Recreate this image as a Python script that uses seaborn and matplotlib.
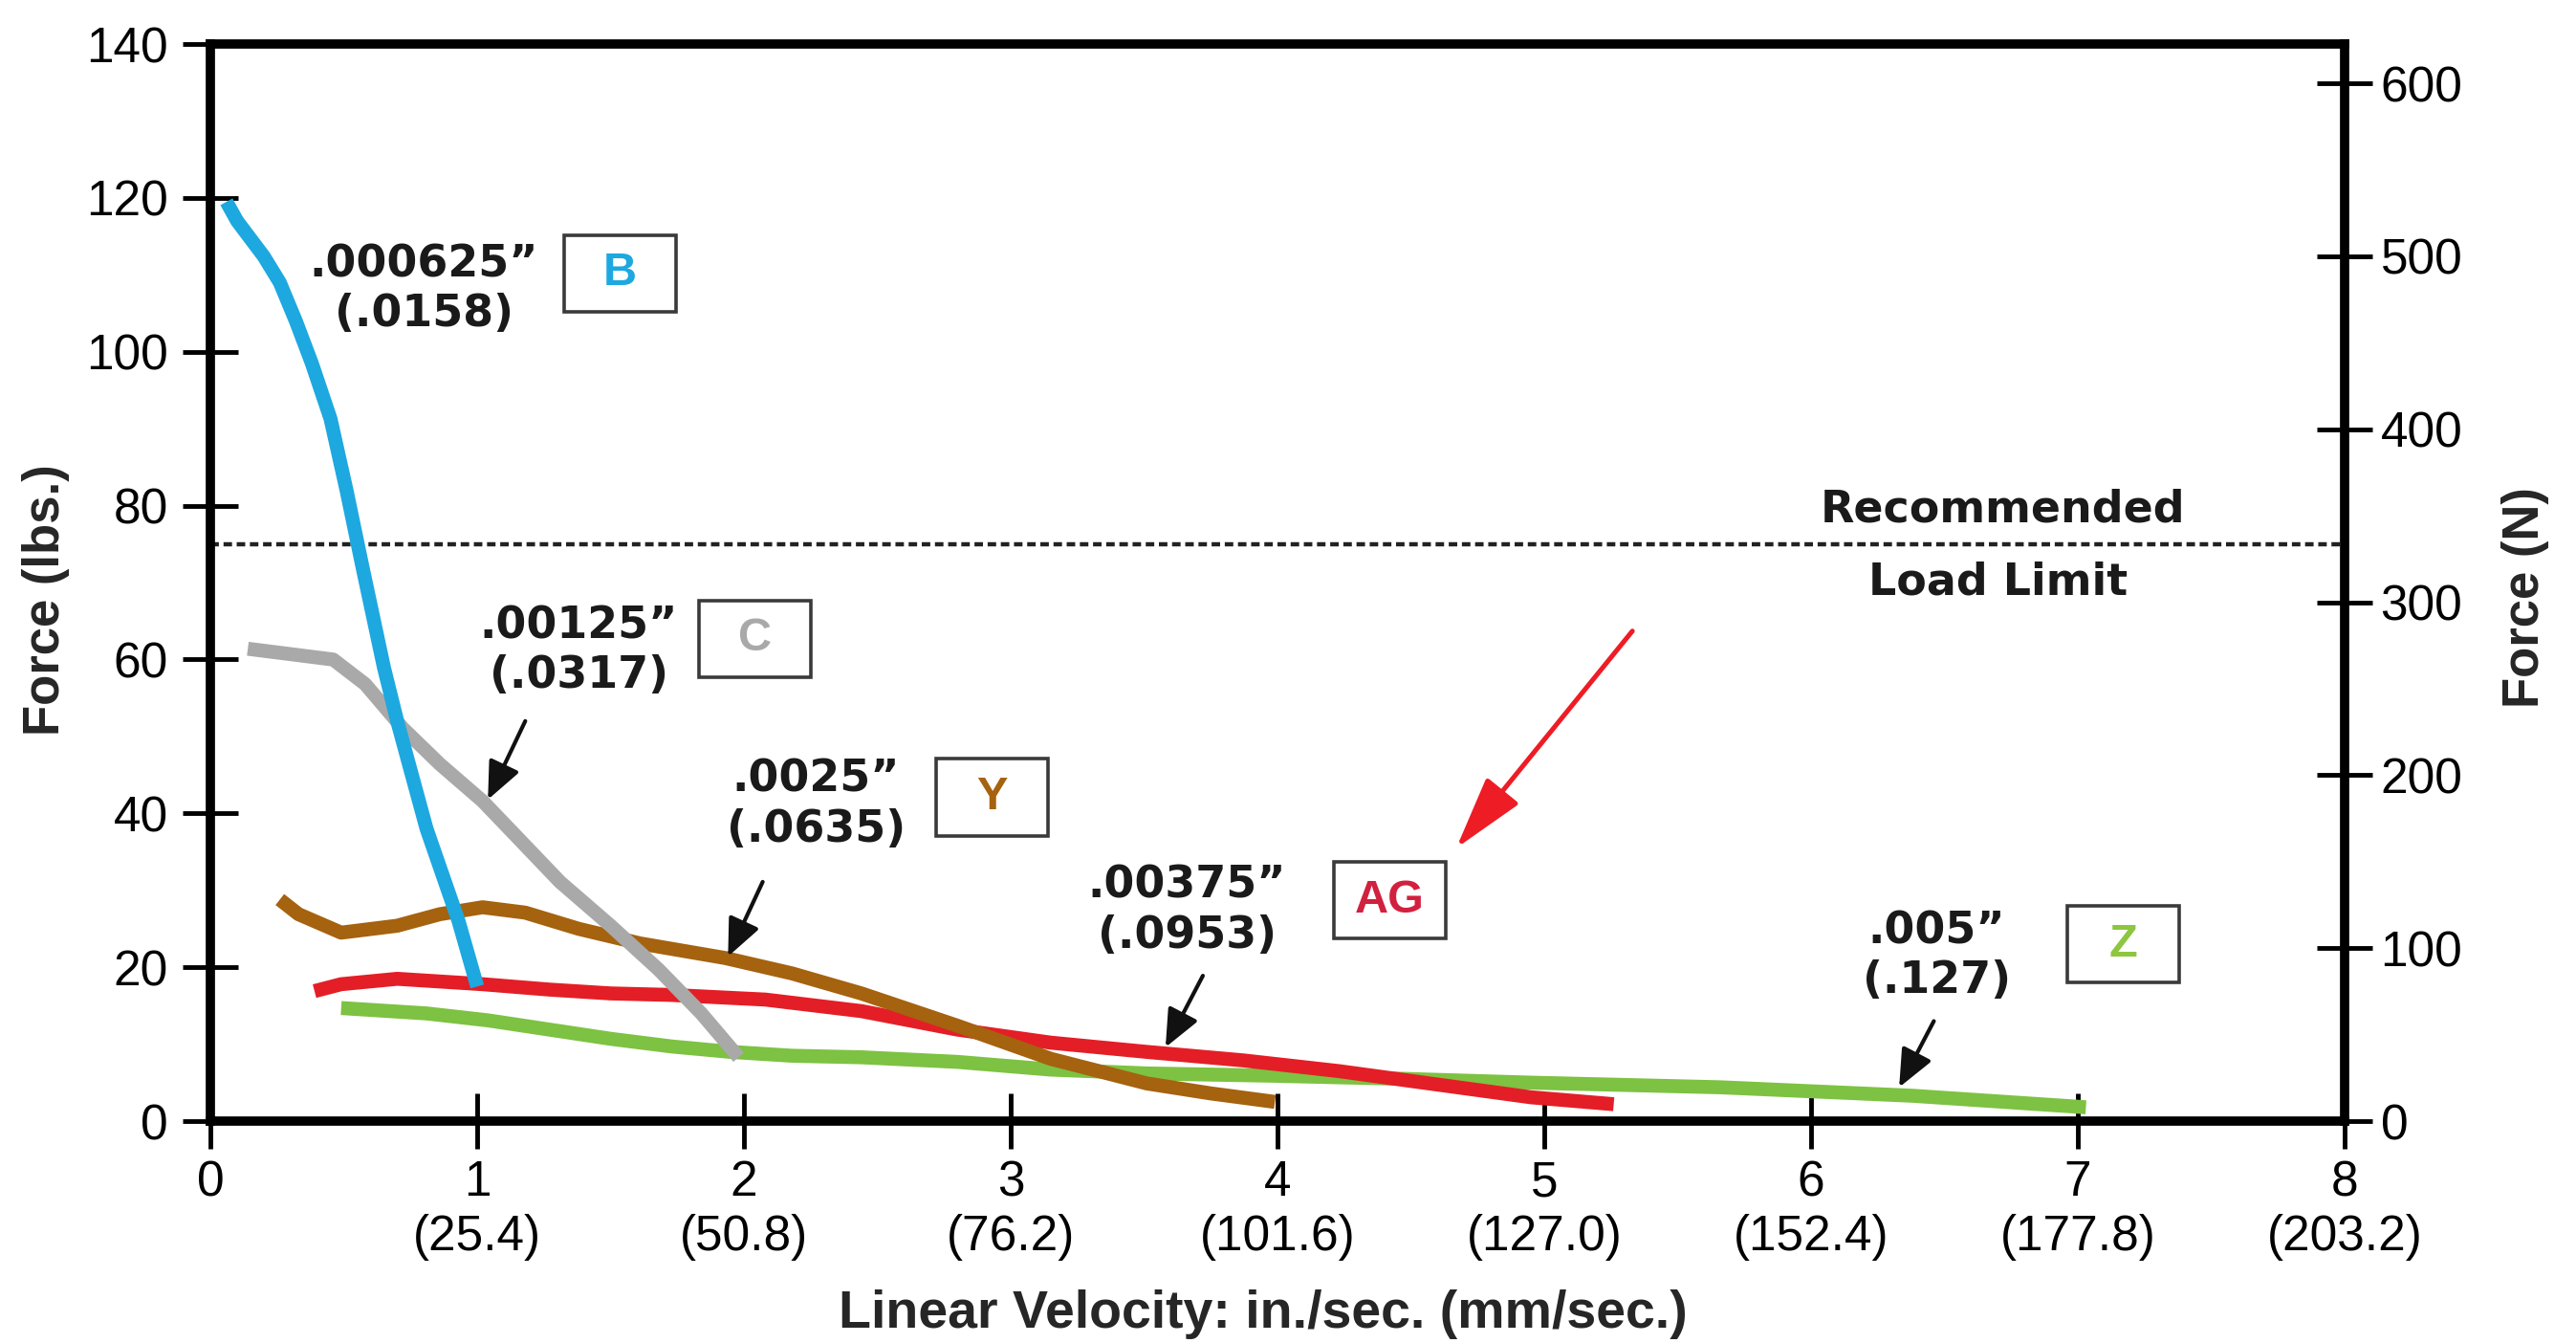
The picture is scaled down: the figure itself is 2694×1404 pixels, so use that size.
import numpy as np
import pandas as pd
import matplotlib
matplotlib.use("Agg")
import matplotlib.pyplot as plt
from matplotlib.patches import Rectangle
import seaborn as sns

LBF_TO_N = 4.448
LOAD_LIMIT = 75

# curves (velocity in in./sec., force in lbs.)
B_VELOCITY = [0.06, 0.10, 0.20, 0.26, 0.32, 0.38, 0.45, 0.51, 0.57, 0.65, 0.70, 0.81, 0.93, 1.00]
B_FORCE = [119.5, 117.0, 112.4, 109.0, 104.0, 98.5, 91.3, 82.0, 72.0, 59.0, 52.0, 38.0, 26.0, 17.5]

C_VELOCITY = [0.14, 0.46, 0.58, 0.72, 0.86, 1.02, 1.15, 1.31, 1.50, 1.68, 1.84, 1.98]
C_FORCE = [61.4, 60.0, 56.8, 51.1, 46.4, 41.6, 36.9, 31.1, 25.4, 19.7, 14.0, 8.3]

Y_VELOCITY = [0.26, 0.33, 0.49, 0.70, 0.86, 1.02, 1.18, 1.38, 1.61, 1.93, 2.18, 2.44,
              2.80, 3.15, 3.51, 3.75, 3.99]
Y_FORCE = [28.8, 26.9, 24.5, 25.4, 26.9, 27.8, 27.1, 25.0, 23.1, 21.2, 19.2, 16.6,
           12.4, 8.1, 4.9, 3.6, 2.5]

AG_VELOCITY = [0.39, 0.49, 0.70, 1.02, 1.27, 1.50, 1.73, 2.08, 2.44, 2.80, 3.15, 3.51,
               3.87, 4.23, 4.59, 4.95, 5.26]
AG_FORCE = [16.9, 17.8, 18.5, 17.8, 17.1, 16.6, 16.4, 15.8, 14.3, 11.9, 10.2, 9.0,
            7.9, 6.5, 4.8, 3.1, 2.2]

Z_VELOCITY = [0.49, 0.81, 1.04, 1.27, 1.50, 1.73, 1.95, 2.18, 2.44, 2.80, 3.15, 3.51,
              3.99, 4.47, 4.95, 5.66, 6.38, 7.03]
Z_FORCE = [14.7, 14.0, 13.1, 11.9, 10.7, 9.7, 9.0, 8.5, 8.3, 7.7, 6.7, 6.2,
           5.9, 5.5, 5.0, 4.4, 3.3, 1.8]

SERIES = ["Z", "AG", "Y", "C", "B"]  # bottom to top
COLORS = {"B": "#1DA8E0", "C": "#A9A9A9", "Y": "#A5620F", "AG": "#E41E26", "Z": "#7DC242"}
BOX_TEXT_COLORS = {"B": "#1DA8E0", "C": "#A9A9A9", "Y": "#A5620F", "AG": "#D2203F", "Z": "#8DC63F"}

X_TICKS = [0, 1, 2, 3, 4, 5, 6, 7, 8]
X_TICK_LABELS = ["0", "1\n(25.4)", "2\n(50.8)", "3\n(76.2)", "4\n(101.6)",
                 "5\n(127.0)", "6\n(152.4)", "7\n(177.8)", "8\n(203.2)"]
LBS_TICKS = [0, 20, 40, 60, 80, 100, 120, 140]
N_TICKS = [0, 100, 200, 300, 400, 500, 600]

# gap labels: (text, text centre, arrow tail, arrow tip)
GAP_LABELS = {
    "B": (".000625\u201d\n(.0158)", (0.80, 108.1), None, None),
    "C": (".00125\u201d\n(.0317)", (1.38, 61.1), (1.18, 52.0), (1.04, 41.8)),
    "Y": (".0025\u201d\n(.0635)", (2.27, 41.1), (2.07, 31.1), (1.94, 21.4)),
    "AG": (".00375\u201d\n(.0953)", (3.66, 27.3), (3.72, 18.9), (3.58, 9.6)),
    "Z": (".005\u201d\n(.127)", (6.47, 21.4), (6.46, 13.0), (6.33, 4.4)),
}
BOX_CENTERS = {"B": (1.536, 110.2), "C": (2.04, 62.7), "Y": (2.93, 42.1),
               "AG": (4.42, 28.7), "Z": (7.17, 23.0)}
BOX_W, BOX_H = 0.42, 10.0

frames = []
for name, xs, ys in [("B", B_VELOCITY, B_FORCE), ("C", C_VELOCITY, C_FORCE),
                     ("Y", Y_VELOCITY, Y_FORCE), ("AG", AG_VELOCITY, AG_FORCE),
                     ("Z", Z_VELOCITY, Z_FORCE)]:
    frames.append(pd.DataFrame({"velocity": xs, "force": ys, "series": name}))
df = pd.concat(frames, ignore_index=True)

sns.set_theme(style="white")
plt.rcParams["font.family"] = ["Liberation Sans", "DejaVu Sans"]

fig = plt.figure(figsize=(26.94, 14.04), dpi=100)
ax = fig.add_axes([0.0817, 0.1652, 0.8285, 0.802])

sns.lineplot(data=df, x="velocity", y="force", hue="series", hue_order=SERIES,
             palette=COLORS, sort=False, estimator=None, linewidth=10.5,
             legend=False, ax=ax)
for line in ax.lines:
    line.set_solid_capstyle("butt")
    line.set_solid_joinstyle("round")

ax.axhline(LOAD_LIMIT, color="#222222", linewidth=3.2, dashes=(2.0, 1.1), zorder=1)

ax.set_xlim(0, 8)
ax.set_ylim(0, 140)
ax.set_xticks(X_TICKS)
ax.set_xticklabels(X_TICK_LABELS)
ax.set_yticks(LBS_TICKS)
for s in ax.spines.values():
    s.set_visible(True)
    s.set_color("black")
    s.set_linewidth(7)
ax.tick_params(axis="x", bottom=True, direction="inout", length=42, width=3.5,
               colors="black", labelsize=37, pad=8)
ax.tick_params(axis="y", left=True, direction="inout", length=42, width=3.5,
               colors="black", labelsize=37, pad=11)
ax.set_xlabel("Linear Velocity: in./sec. (mm/sec.)", fontsize=40, fontweight="bold")
ax.xaxis.set_label_coords(0.493, -0.156)
ax.set_ylabel("Force (lbs.)", fontsize=38, fontweight="bold",
              family=["Liberation Sans Narrow", "Liberation Sans"])
ax.yaxis.set_label_coords(-0.066, 0.484)

ax2 = ax.twinx()
ax2.set_ylim(0, 140 * LBF_TO_N)
ax2.set_yticks(N_TICKS)
for s in ax2.spines.values():
    s.set_visible(False)
ax2.tick_params(axis="y", right=True, direction="inout", length=42, width=3.5,
                colors="black", labelsize=37, pad=6)
ax2.set_ylabel("Force (N)", fontsize=38, fontweight="bold")
ax2.yaxis.set_label_coords(1.0735, 0.486)

# gap annotations
for key, (txt, (tx, ty), tail, tip) in GAP_LABELS.items():
    ax.text(tx, ty, txt, ha="center", va="center", fontsize=33, fontweight="bold",
            family="DejaVu Sans", color="#1a1a1a", zorder=5)
    if tail is not None:
        ax.annotate("", xy=tip, xytext=tail,
                    arrowprops=dict(arrowstyle="-|>,head_length=0.8,head_width=0.35",
                                    mutation_scale=30, lw=3, color="#111111",
                                    shrinkA=0, shrinkB=0), zorder=6)
    cx, cy = BOX_CENTERS[key]
    ax.add_patch(Rectangle((cx - BOX_W / 2, cy - BOX_H / 2), BOX_W, BOX_H,
                           facecolor="white", edgecolor="#3a3a3a", linewidth=2.6,
                           zorder=5))
    ax.text(cx, cy, key, ha="center", va="center", fontsize=35, fontweight="bold",
            color=BOX_TEXT_COLORS[key], zorder=6)

ax.annotate("", xy=(4.67, 35.5), xytext=(5.33, 63.7),
            arrowprops=dict(arrowstyle="-|>,head_length=0.95,head_width=0.27",
                            mutation_scale=50, lw=3.6, color="#EE1C25",
                            shrinkA=0, shrinkB=0), zorder=6)

ax.text(6.72, 79.5, "Recommended", ha="center", va="center", fontsize=33,
        fontweight="bold", family="DejaVu Sans", color="#1a1a1a")
ax.text(6.70, 70.0, "Load Limit", ha="center", va="center", fontsize=33,
        fontweight="bold", family="DejaVu Sans", color="#1a1a1a")

fig.savefig("out.png", dpi=100, facecolor="white")
